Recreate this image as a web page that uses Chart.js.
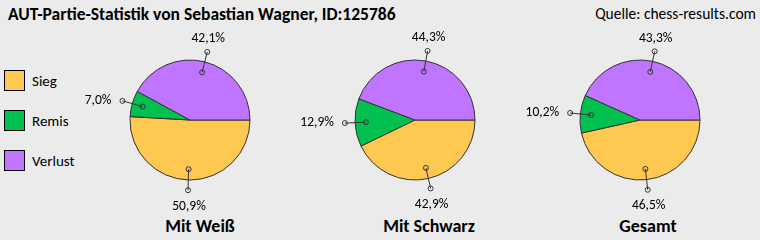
<!DOCTYPE html>
<html>
<head>
<meta charset="utf-8">
<script src="https://cdn.jsdelivr.net/npm/chart.js@4"></script>
<style>
    body { margin: 0; width: 760px; height: 240px; background: #ebebeb; overflow: hidden;
           font-family: Carlito, Lato, sans-serif; color: #000; position: relative; }
    .abs { position: absolute; white-space: nowrap; }
    #title { left: 8px; top: 3px; font-size: 17.5px; font-weight: bold; }
    #source { right: 4px; top: 4px; font-size: 15.5px; }
    .box { position: absolute; left: 4px; width: 19px; height: 19px; border: 1px solid #000; box-sizing: content-box; }
    .leg { position: absolute; left: 32px; font-size: 15px; line-height: 20px; }
    .sub { position: absolute; top: 215px; width: 160px; text-align: center; font-size: 18px; font-weight: bold; }
    canvas { position: absolute; }
</style>
</head>
<body>
<div id="title" class="abs"></div>
<div id="source" class="abs">Quelle: chess-results.com</div>
<div id="legend"></div>
<div id="subs"></div>
<canvas id="pie0" width="260" height="200" style="left:60px;top:20px"></canvas>
<canvas id="pie1" width="260" height="200" style="left:285px;top:20px"></canvas>
<canvas id="pie2" width="260" height="200" style="left:510px;top:20px"></canvas>
<script>
const chartTitle = 'AUT-Partie-Statistik von Sebastian Wagner, ID:125786';
const categories = ['Sieg', 'Remis', 'Verlust'];
const colors = ['#ffc851', '#00c050', '#bf75ff'];
const pieTitles = ['Mit Weiß', 'Mit Schwarz', 'Gesamt'];
const mitWeiss = [50.9, 7.0, 42.1];
const mitSchwarz = [42.9, 12.9, 44.3];
const gesamt = [46.5, 10.2, 43.3];
const series = [mitWeiss, mitSchwarz, gesamt];

document.getElementById('title').textContent = chartTitle;

let $legend = document.getElementById('legend');
categories.forEach(function(name, i) {
    let top = 70 + i * 40;
    $legend.insertAdjacentHTML('beforeend',
        '<div class="box" style="top:' + top + 'px;background:' + colors[i] + '"></div>' +
        '<div class="leg" style="top:' + (top + 1) + 'px">' + name + '</div>');
});

let $subs = document.getElementById('subs');
const subCenters = [200, 429, 648];
pieTitles.forEach(function(name, i) {
    $subs.insertAdjacentHTML('beforeend',
        '<div class="sub" style="left:' + (subCenters[i] - 80) + 'px">' + name + '</div>');
});

function formatValue(v) {
    return v.toFixed(1).replace('.', ',') + '%';
}

// leader lines with small circles + percentage text
const leaderLabels = {
    id: 'leaderLabels',
    afterDatasetsDraw(chart) {
        let ctx = chart.ctx;
        let meta = chart.getDatasetMeta(0);
        let values = chart.data.datasets[0].data;
        ctx.save();
        ctx.font = '13.5px Carlito, Lato, sans-serif';
        ctx.fillStyle = '#000';
        ctx.strokeStyle = '#333';
        ctx.lineWidth = 1;
        meta.data.forEach(function(arc, i) {
            let mid = (arc.startAngle + arc.endAngle) / 2;
            let r = arc.outerRadius;
            let cos = Math.cos(mid), sin = Math.sin(mid);
            let x1 = arc.x + cos * r * 0.82, y1 = arc.y + sin * r * 0.82;
            let x2 = arc.x + cos * r * 1.17, y2 = arc.y + sin * r * 1.17;
            ctx.beginPath();
            ctx.moveTo(x1, y1);
            ctx.lineTo(x2, y2);
            ctx.stroke();
            [[x1, y1], [x2, y2]].forEach(function(p) {
                ctx.beginPath();
                ctx.arc(p[0], p[1], 2.5, 0, Math.PI * 2);
                ctx.stroke();
            });
            let text = formatValue(values[i]);
            ctx.textBaseline = 'middle';
            if (Math.abs(cos) > Math.abs(sin)) {
                ctx.textAlign = cos < 0 ? 'right' : 'left';
                ctx.fillText(text, x2 + (cos < 0 ? -11 : 11), y2);
            } else {
                ctx.textAlign = 'center';
                ctx.fillText(text, x2 + 1, y2 + (sin < 0 ? -13 : 16));
            }
        });
        ctx.restore();
    }
};

series.forEach(function(data, i) {
    new Chart(document.getElementById('pie' + i), {
        type: 'pie',
        data: {
            labels: categories,
            datasets: [{
                data: data,
                backgroundColor: colors,
                borderColor: '#333',
                borderWidth: 1,
                hoverOffset: 0
            }]
        },
        options: {
            responsive: false,
            animation: false,
            events: [],
            radius: 60,
            rotation: 90,
            plugins: {
                legend: { display: false },
                tooltip: { enabled: false }
            }
        },
        plugins: [leaderLabels]
    });
});
</script>
</body>
</html>
